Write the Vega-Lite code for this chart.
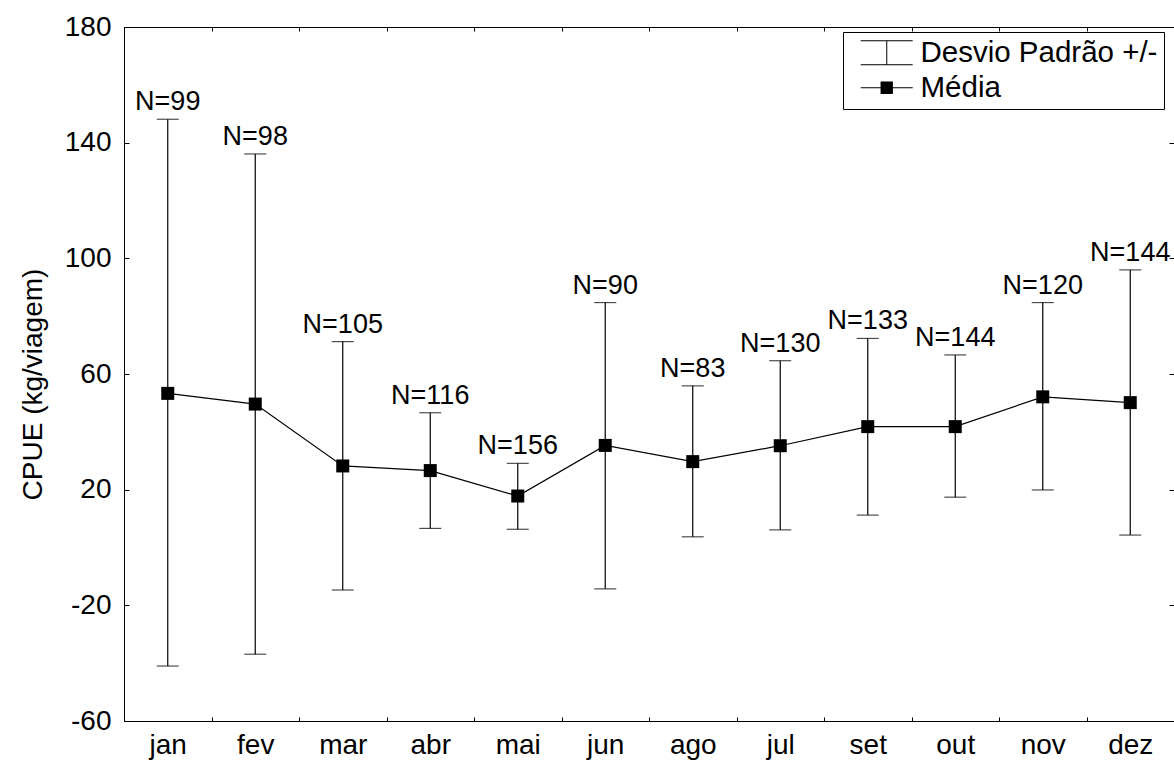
{
  "$schema": "https://vega.github.io/schema/vega-lite/v6.json",
  "width": 1050,
  "height": 694,
  "autosize": "none",
  "padding": {"left": 124, "top": 27, "right": 0, "bottom": 43},
  "background": "white",
  "data": {
    "values": [
      {"mes": "jan", "media": 53.3, "inf": -41.0, "sup": 148.1, "rotulo": "N=99"},
      {"mes": "fev", "media": 49.6, "inf": -36.9, "sup": 136.1, "rotulo": "N=98"},
      {"mes": "mar", "media": 28.2, "inf": -14.7, "sup": 71.2, "rotulo": "N=105"},
      {"mes": "abr", "media": 26.6, "inf": 6.6, "sup": 46.6, "rotulo": "N=116"},
      {"mes": "mai", "media": 17.8, "inf": 6.3, "sup": 29.1, "rotulo": "N=156"},
      {"mes": "jun", "media": 35.3, "inf": -14.3, "sup": 84.7, "rotulo": "N=90"},
      {"mes": "ago", "media": 29.7, "inf": 3.7, "sup": 55.9, "rotulo": "N=83"},
      {"mes": "jul", "media": 35.2, "inf": 6.1, "sup": 64.6, "rotulo": "N=130"},
      {"mes": "set", "media": 41.8, "inf": 11.2, "sup": 72.3, "rotulo": "N=133"},
      {"mes": "out", "media": 41.8, "inf": 17.4, "sup": 66.6, "rotulo": "N=144"},
      {"mes": "nov", "media": 52.1, "inf": 19.9, "sup": 84.7, "rotulo": "N=120"},
      {"mes": "dez", "media": 50.1, "inf": 4.3, "sup": 96.0, "rotulo": "N=144"}
    ]
  },
  "layer": [
    {
      "encoding": {
        "x": {
          "field": "mes", "type": "nominal", "sort": null,
          "scale": {"paddingInner": 0, "paddingOuter": 0},
          "axis": {"orient": "bottom", "title": null, "labelAngle": 0, "tickSize": -4, "tickBand": "extent", "labelPadding": 14, "domain": false}
        }
      },
      "layer": [
        {
          "mark": {"type": "rule", "color": "black", "strokeWidth": 1.2},
          "encoding": {
            "y": {
              "field": "inf", "type": "quantitative",
              "scale": {"domain": [-60, 180], "nice": false, "zero": false},
              "axis": {"orient": "left", "title": "CPUE (kg/viagem)", "values": [-60, -20, 20, 60, 100, 140, 180], "labelExpr": "'' + datum.value", "tickSize": -5, "labelPadding": 18, "titlePadding": 17, "titleY": 357, "domain": false, "grid": false}
            },
            "y2": {"field": "sup"}
          }
        },
        {
          "mark": {"type": "tick", "color": "black", "size": 22, "thickness": 1.2, "orient": "horizontal"},
          "encoding": {"y": {"field": "sup", "type": "quantitative"}}
        },
        {
          "mark": {"type": "tick", "color": "black", "size": 22, "thickness": 1.2, "orient": "horizontal"},
          "encoding": {"y": {"field": "inf", "type": "quantitative"}}
        },
        {
          "mark": {"type": "line", "color": "black", "strokeWidth": 1.2},
          "encoding": {
            "y": {"field": "media", "type": "quantitative"},
            "order": {"value": null}
          }
        },
        {
          "mark": {"type": "point", "shape": "square", "filled": true, "color": "black", "size": 169, "opacity": 1},
          "encoding": {
            "y": {"field": "media", "type": "quantitative"}
          }
        },
        {
          "mark": {"type": "point", "filled": false, "color": "black", "size": 784, "opacity": 0, "strokeWidth": 1},
          "encoding": {
            "y": {"field": "media", "type": "quantitative"},
            "shape": {
              "datum": "Média",
              "scale": {
                "domain": ["Desvio Padrão +/-", "Média"],
                "range": [
                  "M-1.857,-0.857 H1.857 M0,-0.857 V0.857 M-1.857,0.857 H1.857",
                  "M-1.857,0 H1.857 M-0.429,-0.411 H0.429 M-0.429,-0.375 H0.429 M-0.429,-0.339 H0.429 M-0.429,-0.304 H0.429 M-0.429,-0.268 H0.429 M-0.429,-0.232 H0.429 M-0.429,-0.196 H0.429 M-0.429,-0.161 H0.429 M-0.429,-0.125 H0.429 M-0.429,-0.089 H0.429 M-0.429,-0.054 H0.429 M-0.429,-0.018 H0.429 M-0.429,0.018 H0.429 M-0.429,0.054 H0.429 M-0.429,0.089 H0.429 M-0.429,0.125 H0.429 M-0.429,0.161 H0.429 M-0.429,0.196 H0.429 M-0.429,0.232 H0.429 M-0.429,0.268 H0.429 M-0.429,0.304 H0.429 M-0.429,0.339 H0.429 M-0.429,0.375 H0.429 M-0.429,0.411 H0.429"
                ]
              },
              "legend": {
                "title": null,
                "orient": "none",
                "legendX": 719,
                "legendY": 5,
                "strokeColor": "black",
                "fillColor": "white",
                "padding": 6,
                "cornerRadius": 0,
                "labelFont": "Liberation Sans",
                "labelFontSize": 29.5,
                "labelColor": "black",
                "labelLimit": 500,
                "labelOffset": 19,
                "labelExpr": "datum.label === 'Média' ? datum.label : datum.label + '\u00a0\u00a0'",
                "symbolOffset": 23,
                "rowPadding": 4,
                "symbolSize": 784,
                "symbolOpacity": 1,
                "symbolStrokeColor": "black",
                "symbolStrokeWidth": 1
              }
            }
          }
        },
        {
          "mark": {"type": "text", "font": "Liberation Sans", "fontSize": 27, "color": "black", "baseline": "alphabetic", "align": "center", "dy": -9},
          "encoding": {
            "y": {"field": "sup", "type": "quantitative"},
            "text": {"field": "rotulo"}
          }
        }
      ]
    },
    {
      "mark": {"type": "point", "opacity": 0},
      "encoding": {
        "x": {
          "field": "mes", "type": "nominal", "sort": null,
          "scale": {"paddingInner": 0, "paddingOuter": 0},
          "axis": {"orient": "top", "title": null, "labels": false, "tickSize": -4, "tickBand": "extent", "domain": false}
        },
        "y": {
          "field": "media", "type": "quantitative",
          "scale": {"domain": [-60, 180], "nice": false, "zero": false},
          "axis": {"orient": "right", "title": null, "labels": false, "values": [-60, -20, 20, 60, 100, 140, 180], "tickSize": -5, "domain": false, "grid": false}
        }
      }
    }
  ],
  "resolve": {"axis": {"x": "independent", "y": "independent"}},
  "config": {
    "font": "Liberation Sans",
    "view": {"stroke": "black", "strokeWidth": 1},
    "axis": {
      "labelFont": "Liberation Sans",
      "labelFontSize": 28,
      "labelColor": "black",
      "tickColor": "black",
      "tickWidth": 1,
      "titleFont": "Liberation Sans",
      "titleFontSize": 28,
      "titleFontWeight": "normal",
      "titleColor": "black",
      "grid": false,
      "domain": false
    }
  }
}
